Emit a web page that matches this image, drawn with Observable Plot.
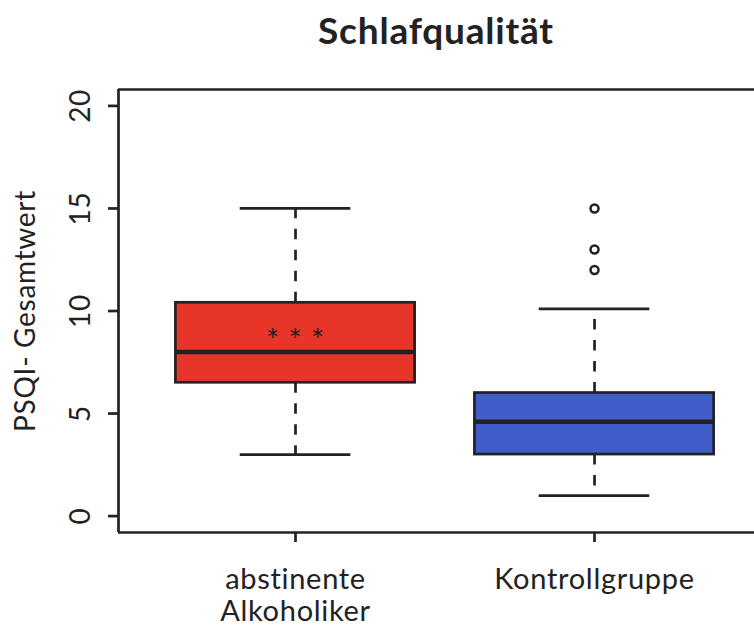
<!DOCTYPE html>
<html>
<head>
<meta charset="utf-8">
<script src="https://cdn.jsdelivr.net/npm/d3@7"></script>
<script src="https://cdn.jsdelivr.net/npm/@observablehq/plot@0.6"></script>
<style>
  html, body { margin: 0; padding: 0; background: #fff; }
  #title { height: 60px; line-height: 60px; font-family: Lato, "Open Sans", sans-serif; font-weight: bold; font-size: 37px; letter-spacing: 0.8px; color: #222; text-align: center; padding-left: 118px; box-sizing: border-box; width: 754px; }
  svg { display: block; }
  svg text { letter-spacing: 0.7px; }
</style>
</head>
<body>
<div id="title">Schlafqualität</div>
<div id="chart"></div>
<script>
// Data
const categories = ["abstinente\nAlkoholiker", "Kontrollgruppe"];
const whiskerLow = [3, 1];
const q1 = [6.5, 3];
const median = [8, 4.6];
const q3 = [10.4, 6];
const whiskerHigh = [15, 10.1];
const fills = ["#e8352a", "#405ec8"];
const outlierGroup = [2, 2, 2];
const outlierValue = [15, 13, 12];
const yTicks = [0, 5, 10, 15, 20];
const sigGroup = [1];
const sigValue = [9.05];
const sigLabel = ["* * *"];

const boxes = categories.map((c, i) => ({
  pos: i + 1, name: c, lo: whiskerLow[i], q1: q1[i], med: median[i], q3: q3[i], hi: whiskerHigh[i], fill: fills[i]
}));
const outliers = outlierValue.map((v, i) => ({pos: outlierGroup[i], v}));
const sig = sigLabel.map((t, i) => ({pos: sigGroup[i], v: sigValue[i], t}));

const xDomain = [0.408, 2.535];
const yDomain = [-0.8, 20.8];
const ink = "#222";
const half = 0.4, cap = 0.185;

const chart = Plot.plot({
  width: 754,
  height: 566,
  marginTop: 29,
  marginBottom: 94,
  marginLeft: 118,
  marginRight: 0,
  style: {fontFamily: "Lato, 'Open Sans', sans-serif", color: ink, background: "white"},
  x: {domain: xDomain, axis: null},
  y: {domain: yDomain, axis: null},
  marks: [
    // frame (left, top, bottom)
    Plot.ruleX([xDomain[0]], {y1: yDomain[0], y2: yDomain[1], stroke: ink, strokeWidth: 2.7}),
    Plot.ruleY([yDomain[0], yDomain[1]], {x1: xDomain[0], x2: xDomain[1], stroke: ink, strokeWidth: 2.7}),
    Plot.axisY({
      ticks: yTicks, tickSize: 10, tickPadding: 19, tickRotate: -90, fontSize: 28,
      stroke: ink, strokeWidth: 2.7, fill: ink,
      label: "PSQI- Gesamtwert", labelAnchor: "center", labelArrow: "none", labelOffset: 103
    }),
    Plot.axisX({
      ticks: boxes.map(d => d.pos), tickFormat: d => categories[d - 1], tickSize: 10, tickPadding: 23,
      fontSize: 29, lineHeight: 1.12, stroke: ink, strokeWidth: 2.7, fill: ink, label: null
    }),
    // whiskers (dashed)
    Plot.ruleX(boxes, {x: "pos", y1: "q3", y2: "hi", stroke: ink, strokeWidth: 2.7, strokeDasharray: "10.5,10.5"}),
    Plot.ruleX(boxes, {x: "pos", y1: "q1", y2: "lo", stroke: ink, strokeWidth: 2.7, strokeDasharray: "10.5,10.5"}),
    // caps
    Plot.ruleY(boxes, {y: "hi", x1: d => d.pos - cap, x2: d => d.pos + cap, stroke: ink, strokeWidth: 2.7}),
    Plot.ruleY(boxes, {y: "lo", x1: d => d.pos - cap, x2: d => d.pos + cap, stroke: ink, strokeWidth: 2.7}),
    // boxes
    Plot.rect(boxes, {x1: d => d.pos - half, x2: d => d.pos + half, y1: "q1", y2: "q3", fill: "fill", stroke: ink, strokeWidth: 2.7}),
    // medians
    Plot.ruleY(boxes, {y: "med", x1: d => d.pos - half, x2: d => d.pos + half, stroke: ink, strokeWidth: 4.5}),
    // outliers
    Plot.dot(outliers, {x: "pos", y: "v", r: 4, stroke: ink, strokeWidth: 2.5, fill: "white"}),
    // significance
    Plot.text(sig, {x: "pos", y: "v", text: "t", fontSize: 31, fill: ink, dy: 11})
  ]
});
document.getElementById("chart").appendChild(chart);
</script>
</body>
</html>
